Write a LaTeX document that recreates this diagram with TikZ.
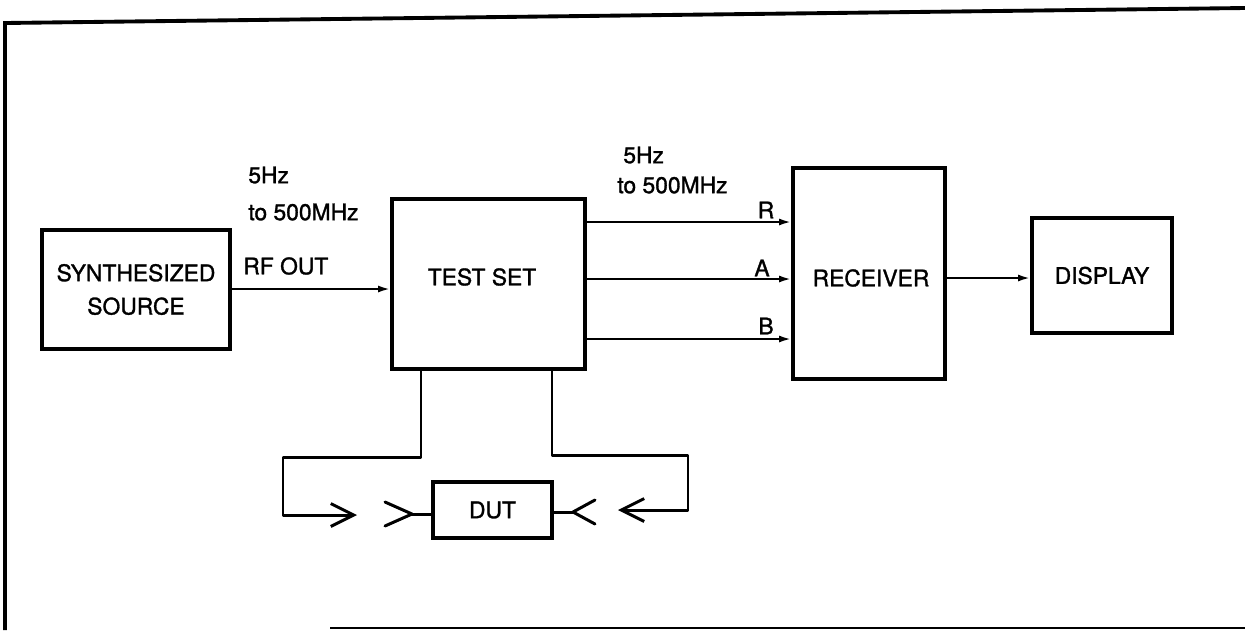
\documentclass[tikz,border=0pt]{standalone}
\usepackage{fontspec}
\setmainfont{TeX Gyre Heros}[BoldFont=TeX Gyre Heros,BoldFeatures={FakeBold=1.3}]
\usetikzlibrary{arrows.meta}
\begin{document}
\begin{tikzpicture}[x=0.02cm,y=-0.02cm,
  box/.style={draw,line width=1.9pt,inner sep=0pt,align=center,font=\fontsize{13}{19}\selectfont\bfseries},
  lbl/.style={inner sep=0pt,font=\fontsize{13}{15}\selectfont\bfseries},
  sig/.style={line width=1.3pt,-{Latex[length=7pt,width=4pt]}},
  wire/.style={line width=1.7pt,line join=round,line cap=round},
  barb/.style={wire,-{Straight Barb[length=13pt,width=13pt,line width=1.7pt]}}]
\useasboundingbox (0,0) rectangle (1245,630);
% frame
\draw[line width=2.2pt] (5,630) -- (5,23) -- (1245,8);
\draw[line width=1.6pt] (330,628) -- (1245,628);
% blocks
\node[box,minimum width=188*0.02cm,minimum height=119*0.02cm] (src) at (136,289.5) {SYNTHESIZED\\SOURCE};
\node[box,minimum width=193*0.02cm,minimum height=170*0.02cm] (test) at (488.5,284) {};
\node[lbl] (testl) at (482,277) {TEST SET};
\node[box,minimum width=152*0.02cm,minimum height=211*0.02cm] (recv) at (869,273.5) {};
\node[lbl] (recvl) at (871,278) {RECEIVER};
\node[box,minimum width=140*0.02cm,minimum height=115*0.02cm] (disp) at (1102,275.5) {DISPLAY};
\node[box,minimum width=119*0.02cm,minimum height=56*0.02cm] (dut) at (492.5,510) {DUT};
% labels
\node[lbl,anchor=west] (f1) at (248,175) {5Hz};
\node[lbl,anchor=west] (f2) at (248,212) {to 500MHz};
\node[lbl,anchor=west] (rf) at (243,266) {RF OUT};
\node[lbl,anchor=west] (f3) at (623,155) {5Hz};
\node[lbl,anchor=west] (f4) at (617,185) {to 500MHz};
\node[lbl] (lr) at (766,210) {R};
\node[lbl] (la) at (762,268) {A};
\node[lbl] (lb) at (766,326) {B};
% connectors
\draw[sig] (src.east |- 0,289) -- (test.west |- 0,289);
\draw[sig] (test.east |- 0,222) -- (recv.west |- 0,222);
\draw[sig] (test.east |- 0,279) -- (recv.west |- 0,279);
\draw[sig] (test.east |- 0,339) -- (recv.west |- 0,339);
\draw[sig] (recv.east |- 0,278) -- (disp.west |- 0,278);
% DUT loops
\coordinate (lt) at (357,515);
\coordinate (rt) at (618,510);
\draw[barb] (test.south -| 421,0) -- (421,457) -- (283,457) -- (283,515) -- (lt);
\draw[barb] (test.south -| 552,0) -- (552,455) -- (688,455) -- (688,510) -- (rt);
% DUT connectors
\coordinate (lc) at (412,514);
\coordinate (rc) at (573,512);
\draw[wire] (dut.west |- lc) -- (lc);
\draw[wire] (385,502) -- (lc) -- (385,526);
\draw[wire] (dut.east |- rc) -- (rc);
\draw[wire] (595,500) -- (rc) -- (595,524);
\end{tikzpicture}
\end{document}
